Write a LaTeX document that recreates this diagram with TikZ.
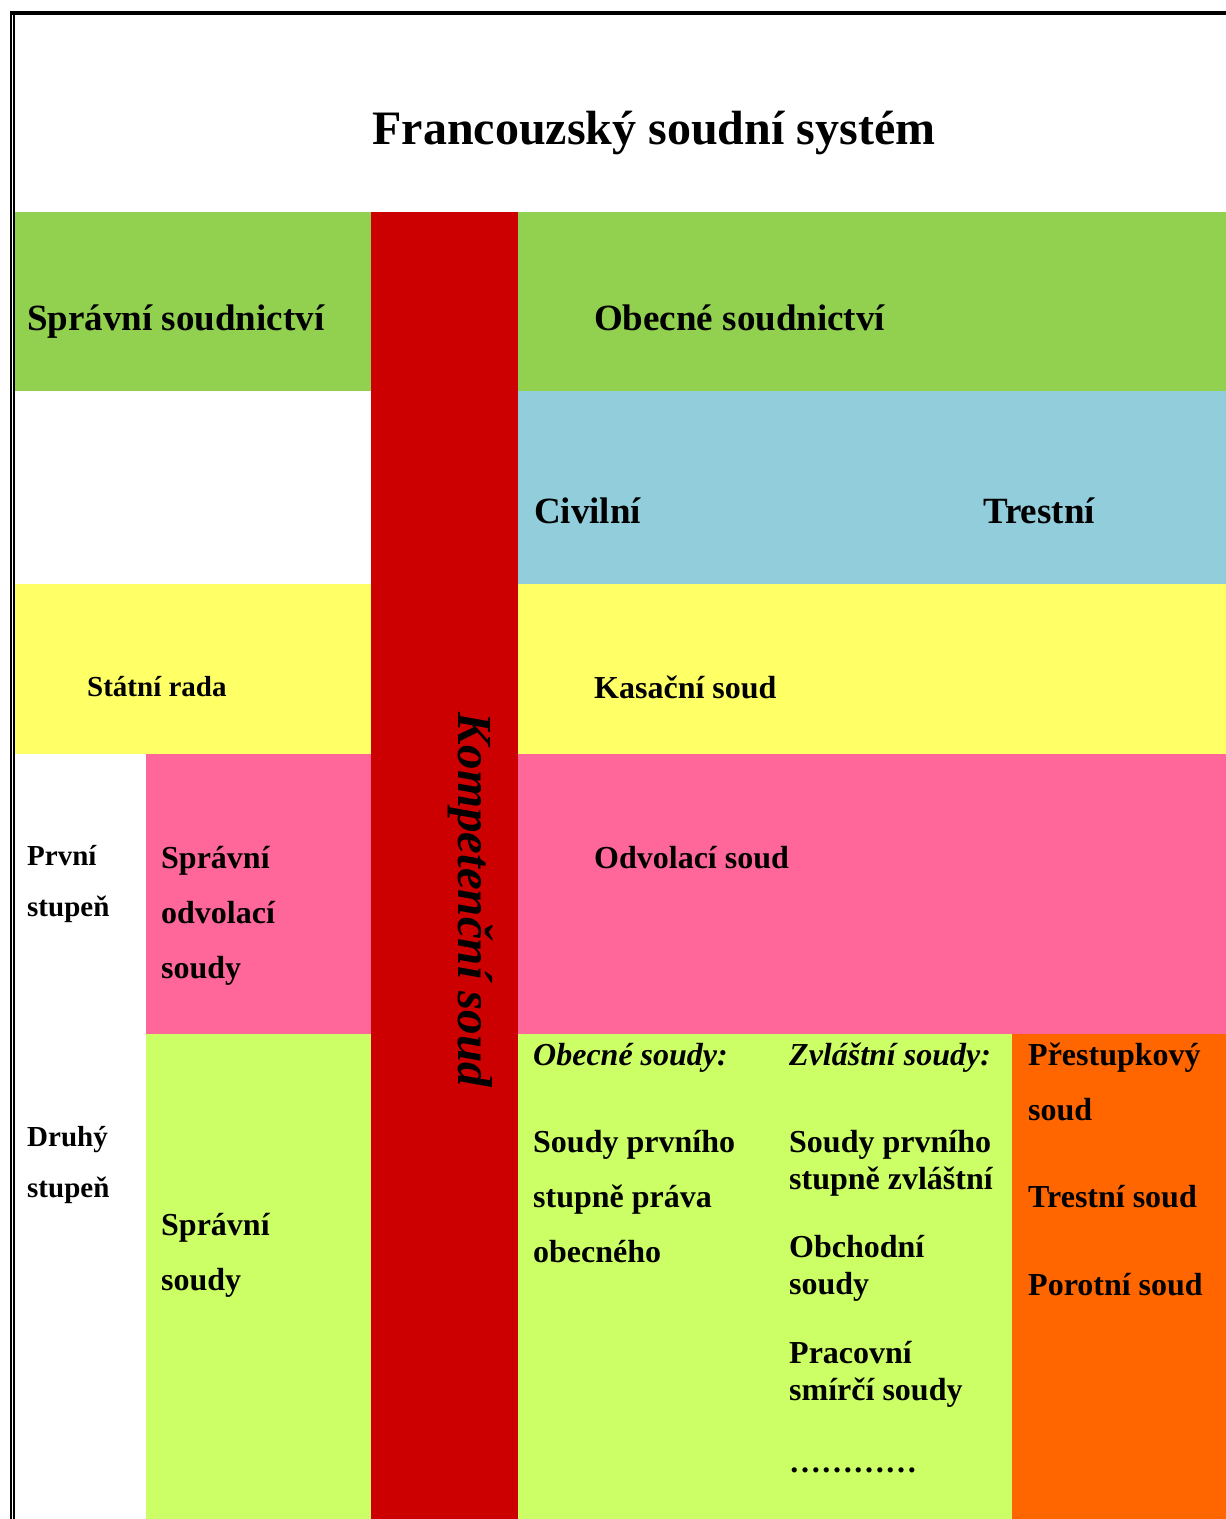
\documentclass[tikz,border=0pt]{standalone}
\usepackage{fontspec}
\setmainfont{Liberation Serif}
\definecolor{cgreen}{HTML}{92D050}
\definecolor{cblue}{HTML}{92CDDC}
\definecolor{cyellow}{HTML}{FFFF66}
\definecolor{cred}{HTML}{CC0000}
\definecolor{cpink}{HTML}{FF6699}
\definecolor{clgreen}{HTML}{CCFF66}
\definecolor{corange}{HTML}{FF6600}
\begin{document}
\begin{tikzpicture}[x=1pt,y=-1pt,
  t/.style={anchor=base west,inner sep=0pt,yshift=-2pt,font=\bfseries\fontsize{32}{38}\selectfont},
  tb/.style={t,font=\bfseries\fontsize{37}{44}\selectfont},
  ts/.style={t,font=\bfseries\fontsize{29}{35}\selectfont},
  ti/.style={t,font=\bfseries\itshape\fontsize{32}{38}\selectfont}]
\useasboundingbox (0,0) rectangle (1226,1519);
% colour fields
\fill[cgreen] (15,212) rectangle (371,391);
\fill[cgreen] (518,212) rectangle (1226,391);
\fill[cblue] (518,391) rectangle (1226,584);
\fill[cyellow] (15,584) rectangle (371,754);
\fill[cyellow] (518,584) rectangle (1226,754);
\fill[cpink] (146,754) rectangle (371,1034);
\fill[cpink] (518,754) rectangle (1226,1034);
\fill[clgreen] (146,1034) rectangle (371,1519);
\fill[clgreen] (518,1034) rectangle (1012,1519);
\fill[corange] (1012,1034) rectangle (1226,1519);
\fill[cred] (371,212) rectangle (518,1519);
% border
\draw[line width=4pt] (11,13) -- (1226,13);
\draw[line width=1.4pt] (11,11) -- (11,1519);
\draw[line width=1.4pt] (13.8,15) -- (13.8,1519);
% texts
\node[t,font=\bfseries\fontsize{48}{56}\selectfont,anchor=base] (title) at (654,142) {Francouzský soudní systém};
\node[tb] (spravni) at (27,328) {Správní soudnictví};
\node[tb] (obecne) at (594,328) {Obecné soudnictví};
\node[tb] (civilni) at (534,521) {Civilní};
\node[tb] (trestni) at (983,521) {Trestní};
\node[ts] (statni) at (87,694) {Státní rada};
\node[t] (kasacni) at (594,696) {Kasační soud};
\node[ts] (prvni1) at (27,863) {První};
\node[ts] (prvni2) at (27,914) {stupeň};
\node[t] (sod1) at (161,866) {Správní};
\node[t] (sod2) at (161,921) {odvolací};
\node[t] (sod3) at (161,976) {soudy};
\node[t] (odvolaci) at (594,866) {Odvolací soud};
\node[ts] (druhy1) at (27,1144) {Druhý};
\node[ts] (druhy2) at (27,1195) {stupeň};
\node[t] (ss1) at (161,1233) {Správní};
\node[t] (ss2) at (161,1288) {soudy};
\node[ti] (obsoudy) at (533,1063) {Obecné soudy:};
\node[t] (spo1) at (533,1150) {Soudy prvního};
\node[t] (spo2) at (533,1205) {stupně práva};
\node[t] (spo3) at (533,1260) {obecného};
\node[ti] (zvsoudy) at (789,1063) {Zvláštní soudy:};
\node[t] (spz1) at (789,1150) {Soudy prvního};
\node[t] (spz2) at (789,1187) {stupně zvláštní};
\node[t] (obch1) at (789,1255) {Obchodní};
\node[t] (obch2) at (789,1292) {soudy};
\node[t] (prac1) at (789,1361) {Pracovní};
\node[t] (prac2) at (789,1398) {smírčí soudy};
\node[t] (dots) at (789,1470) {…………};
\node[t] (prest1) at (1028,1063) {Přestupkový};
\node[t] (prest2) at (1028,1118) {soud};
\node[t] (trsoud) at (1028,1205) {Trestní soud};
\node[t] (porot) at (1028,1293) {Porotní soud};
\node[t,yshift=2pt,font=\bfseries\itshape\fontsize{49}{58}\selectfont,anchor=base,rotate=-90] (kompet) at (458,900) {Kompetenční soud};
\end{tikzpicture}
\end{document}
